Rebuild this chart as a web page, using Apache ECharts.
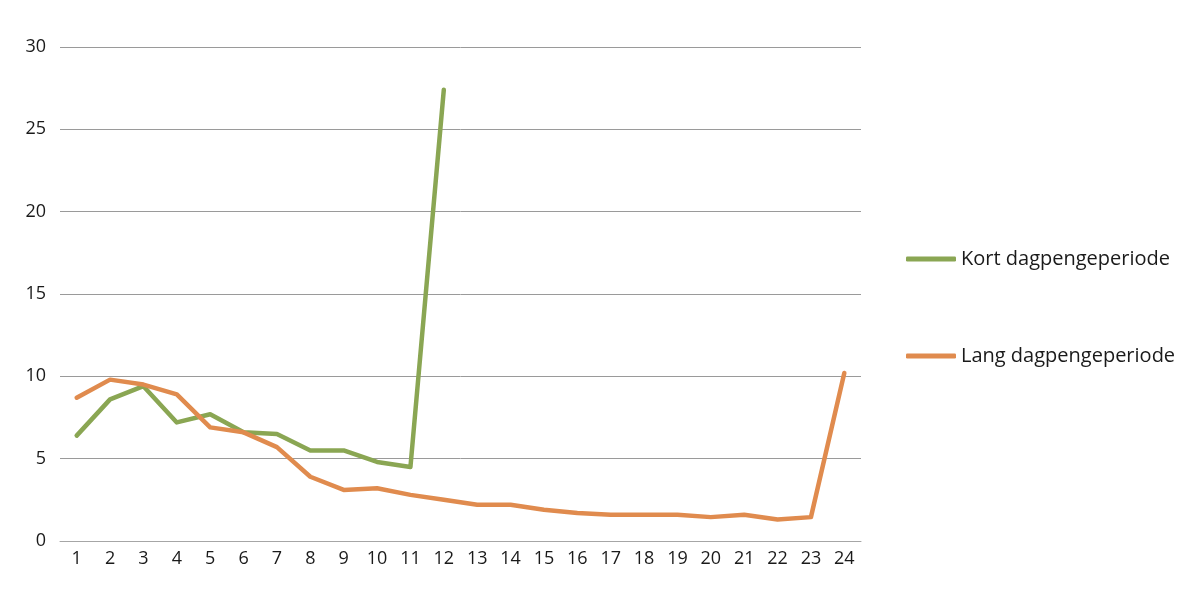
<!DOCTYPE html>
<html>
<head>
<meta charset="utf-8">
<script src="https://cdn.jsdelivr.net/npm/echarts@6/dist/echarts.min.js"></script>
<style>
html,body{margin:0;padding:0;background:#fff;}
#c{width:1200px;height:605px;}
</style>
</head>
<body>
<div id="c"></div>
<script>
const categories = ['1','2','3','4','5','6','7','8','9','10','11','12','13','14','15','16','17','18','19','20','21','22','23','24'];
const kortName = 'Kort dagpengeperiode';
const langName = 'Lang dagpengeperiode';
const kort = [6.4, 8.6, 9.4, 7.2, 7.7, 6.6, 6.5, 5.5, 5.5, 4.8, 4.5, 27.4];
const lang = [8.7, 9.8, 9.5, 8.9, 6.9, 6.6, 5.7, 3.9, 3.1, 3.2, 2.8, 2.5, 2.2, 2.2, 1.9, 1.7, 1.6, 1.6, 1.6, 1.45, 1.6, 1.3, 1.45, 10.2];
const yTicks = {min: 0, max: 30, interval: 5};

const font = '"Open Sans", "Noto Sans", sans-serif';
const chart = echarts.init(document.getElementById('c'), null, {renderer: 'canvas'});
chart.setOption({
  animation: false,
  grid: {left: 60, right: 339, top: 47, bottom: 64, containLabel: false},
  legend: {
    orient: 'vertical',
    left: 906,
    top: 249,
    padding: 0,
    itemWidth: 50,
    itemHeight: 5,
    itemGap: 77,
    itemTextGap: 6,
    icon: 'roundRect',
    textStyle: {fontFamily: font, fontSize: 20, color: '#1a1a1a'},
    data: [kortName, langName]
  },
  xAxis: {
    type: 'category',
    data: categories,
    boundaryGap: true,
    axisLine: {show: true, lineStyle: {color: '#a6a6a6', width: 1}},
    axisTick: {show: false},
    axisLabel: {fontFamily: font, fontSize: 18, color: '#1a1a1a', margin: 9, interval: 0}
  },
  yAxis: {
    type: 'value',
    min: yTicks.min, max: yTicks.max, interval: yTicks.interval,
    axisLine: {show: false},
    axisTick: {show: false},
    splitLine: {lineStyle: {color: '#9a9a9a', width: 1}},
    axisLabel: {fontFamily: font, fontSize: 18, color: '#1a1a1a', margin: 14, verticalAlign: 'middle', padding: [0, 0, 5, 0]}
  },
  series: [
    {name: kortName, type: 'line', data: kort, showSymbol: false, symbol: 'none',
     lineStyle: {color: '#8aa653', width: 4.5, cap: 'round', join: 'round'}, itemStyle: {color: '#8aa653'}},
    {name: langName, type: 'line', data: lang, showSymbol: false, symbol: 'none',
     lineStyle: {color: '#e08b4e', width: 4.5, cap: 'round', join: 'round'}, itemStyle: {color: '#e08b4e'}}
  ]
});
</script>
</body>
</html>
